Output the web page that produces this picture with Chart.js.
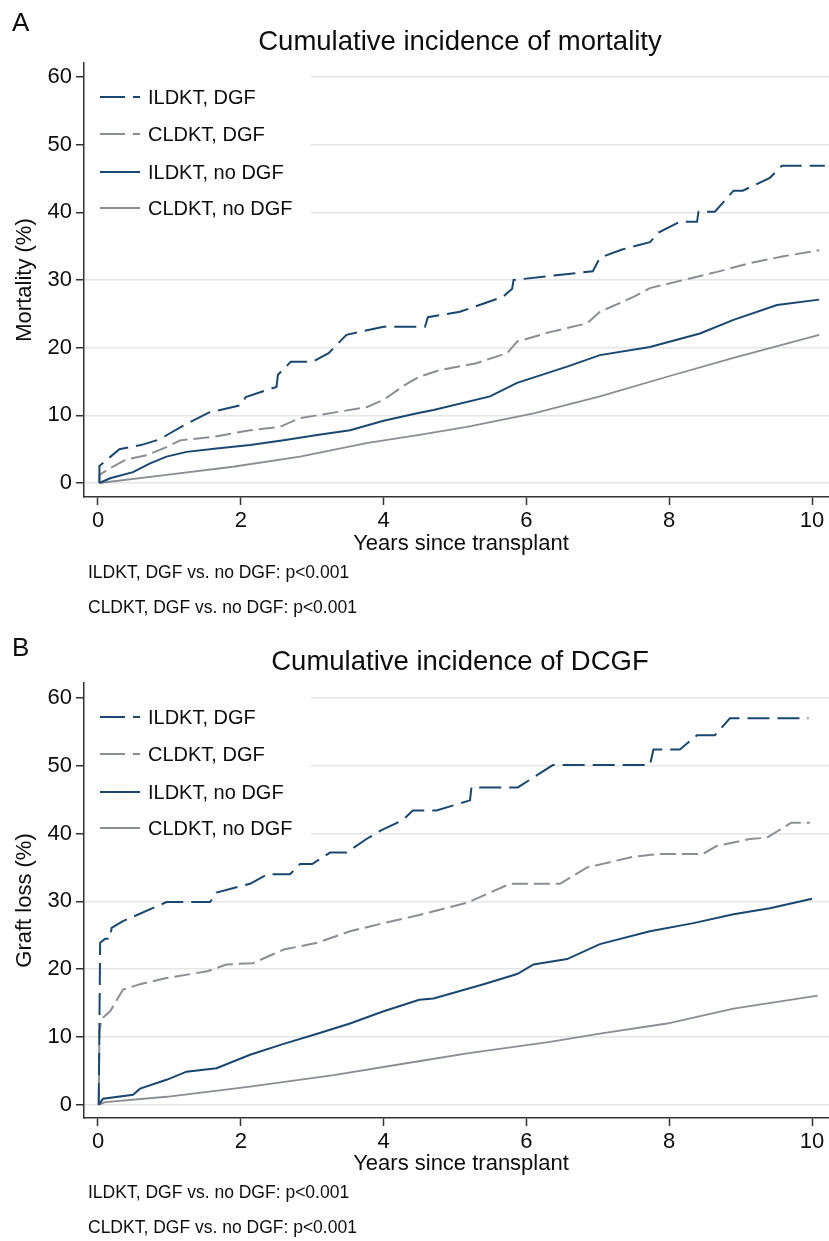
<!DOCTYPE html>
<html>
<head>
<meta charset="utf-8">
<script src="https://cdn.jsdelivr.net/npm/chart.js@4.4.0/dist/chart.umd.min.js"></script>
<style>
  body { margin: 0; background: #fff; }
  .panel { position: relative; width: 829px; }
  canvas { display: block; }
</style>
</head>
<body>
<div class="panel"><canvas id="chartA" width="829" height="620"></canvas></div>
<div class="panel"><canvas id="chartB" width="829" height="621"></canvas></div>
<script>
// ---- data ----
const X_TICKS = [0, 2, 4, 6, 8, 10];
const Y_TICKS = [0, 10, 20, 30, 40, 50, 60];
const SERIES_NAMES = ['ILDKT, DGF', 'CLDKT, DGF', 'ILDKT, no DGF', 'CLDKT, no DGF'];

// Panel A: mortality
const mortIldktDgfT = [0.02, 0.02, 0.3, 0.6, 0.85, 1.2, 1.55, 2.0, 2.07, 2.5, 2.52, 2.7, 3.0, 3.23, 3.48, 4.0, 4.58, 4.62, 5.07, 5.67, 5.8, 5.82, 6.93, 7.03, 7.34, 7.73, 7.85, 8.15, 8.39, 8.41, 8.64, 8.9, 9.03, 9.41, 9.58, 10.18];
const mortIldktDgfV = [0, 2.5, 5.0, 5.6, 6.4, 8.5, 10.4, 11.5, 12.7, 14.2, 16.0, 17.9, 17.9, 19.2, 21.9, 23.1, 23.1, 24.5, 25.3, 27.5, 28.7, 30.0, 31.3, 33.3, 34.5, 35.6, 37.0, 38.6, 38.6, 40.1, 40.1, 43.2, 43.2, 45.1, 46.9, 46.9];
const mortCldktDgfT = [0.02, 0.02, 0.17, 0.4, 0.68, 0.96, 1.15, 1.61, 2.13, 2.55, 2.83, 3.3, 3.76, 4.0, 4.3, 4.5, 4.79, 5.3, 5.73, 5.87, 6.33, 6.85, 7.03, 7.5, 7.73, 8.2, 8.67, 9.13, 9.6, 10.1];
const mortCldktDgfV = [0, 1.2, 2.2, 3.5, 4.1, 5.3, 6.3, 6.8, 7.8, 8.3, 9.6, 10.4, 11.2, 12.3, 14.5, 15.7, 16.7, 17.7, 19.2, 20.9, 22.3, 23.6, 25.3, 27.5, 28.8, 30.0, 31.2, 32.5, 33.5, 34.4];
const mortIldktNoT = [0.02, 0.17, 0.49, 0.73, 0.96, 1.24, 1.66, 2.13, 2.6, 3.07, 3.53, 4.0, 4.47, 4.7, 5.49, 5.87, 6.57, 7.03, 7.73, 8.43, 8.9, 9.51, 10.1];
const mortIldktNoV = [0, 0.7, 1.6, 2.9, 3.9, 4.6, 5.1, 5.6, 6.3, 7.1, 7.8, 9.2, 10.3, 10.8, 12.8, 14.8, 17.2, 18.9, 20.1, 22.1, 24.1, 26.3, 27.1];
const mortCldktNoT = [0.02, 0.96, 1.89, 2.83, 3.76, 4.5, 5.17, 6.1, 7.03, 7.97, 8.9, 10.1];
const mortCldktNoV = [0, 1.2, 2.4, 3.9, 5.9, 7.1, 8.3, 10.3, 12.8, 15.7, 18.5, 21.9];

// Panel B: death-censored graft failure
const dcgfIldktDgfT = [0.01, 0.03, 0.1, 0.17, 0.19, 0.35, 0.96, 1.57, 1.66, 2.13, 2.37, 2.69, 2.83, 3.0, 3.25, 3.48, 3.76, 3.95, 4.27, 4.41, 4.74, 5.21, 5.23, 5.88, 6.37, 7.73, 7.78, 8.15, 8.39, 8.64, 8.85, 9.95];
const dcgfIldktDgfV = [0, 23.9, 24.5, 24.5, 26.1, 27.1, 29.9, 29.9, 31.3, 32.6, 34.0, 34.0, 35.5, 35.5, 37.2, 37.2, 39.2, 40.4, 42.0, 43.4, 43.4, 44.9, 46.8, 46.8, 50.1, 50.1, 52.4, 52.4, 54.5, 54.5, 57.0, 57.0];
const dcgfCldktDgfT = [0.01, 0.02, 0.05, 0.17, 0.35, 0.59, 0.96, 1.53, 1.8, 2.17, 2.6, 3.07, 3.53, 4.0, 4.5, 5.17, 5.77, 6.47, 6.85, 7.5, 7.87, 8.47, 8.67, 9.13, 9.37, 9.6, 9.71, 9.97];
const dcgfCldktDgfV = [0, 10.8, 12.7, 13.8, 17.0, 17.8, 18.7, 19.7, 20.7, 20.9, 22.9, 23.9, 25.6, 26.8, 28.0, 29.8, 32.6, 32.6, 35.0, 36.6, 37.0, 37.0, 38.2, 39.2, 39.4, 40.9, 41.6, 41.6];
const dcgfIldktNoT = [0.01, 0.07, 0.49, 0.59, 0.96, 1.24, 1.66, 2.13, 2.6, 3.07, 3.53, 4.0, 4.5, 4.7, 5.4, 5.87, 6.1, 6.57, 7.03, 7.73, 8.34, 8.9, 9.41, 10.0];
const dcgfIldktNoV = [0, 0.9, 1.5, 2.4, 3.7, 4.9, 5.4, 7.4, 9.0, 10.5, 12.0, 13.8, 15.5, 15.7, 17.8, 19.3, 20.7, 21.5, 23.7, 25.6, 26.8, 28.1, 29.0, 30.4];
const dcgfCldktNoT = [0.01, 0.1, 0.96, 2.13, 3.3, 4.47, 5.17, 6.33, 7.03, 7.97, 8.9, 10.08];
const dcgfCldktNoV = [0, 0.4, 1.2, 2.7, 4.4, 6.4, 7.6, 9.3, 10.5, 12.0, 14.2, 16.1];

const NOTES = ['ILDKT, DGF vs. no DGF: p<0.001', 'CLDKT, DGF vs. no DGF: p<0.001'];

// ---- styles ----
const NAVY = '#1a476f';
const GREY = '#8a8e94';
const FONT = '"Liberation Sans", Arial, Helvetica, sans-serif';
const TEXT = '#0d0d0d';

function pts(t, v) {
    return t.map((x, i) => ({ x: x, y: v[i] }));
}

const lineStyles = [
    { color: NAVY, dash: [22, 8], width: 2 },
    { color: GREY, dash: [16, 6], width: 2 },
    { color: NAVY, dash: [], width: 2 },
    { color: GREY, dash: [], width: 1.8 }
];

// texts drawn by hand: panel letter, title, axis titles, legend, notes
const textPlugin = {
    id: 'texts',
    beforeDatasetsDraw(chart, args, o) {
        const ctx = chart.ctx;
        const a = chart.chartArea;
        ctx.save();
        // legend sits in a white box that hides the grid lines
        ctx.fillStyle = '#fff';
        ctx.fillRect(a.left + 1, a.top, 226, 162);
        const rows = [97, 134, 172, 208];
        ctx.font = '20px ' + FONT;
        ctx.textBaseline = 'middle';
        SERIES_NAMES.forEach((name, i) => {
            const s = lineStyles[i];
            ctx.strokeStyle = s.color;
            ctx.lineWidth = s.width;
            ctx.setLineDash(s.dash.length ? [25, 8] : []);
            ctx.beginPath();
            ctx.moveTo(100, rows[i]);
            ctx.lineTo(140, rows[i]);
            ctx.stroke();
            ctx.setLineDash([]);
            ctx.fillStyle = TEXT;
            ctx.textAlign = 'left';
            ctx.fillText(name, 148, rows[i] + 1);
        });
        ctx.restore();
    },
    afterDraw(chart, args, o) {
        const ctx = chart.ctx;
        const a = chart.chartArea;
        ctx.save();
        ctx.fillStyle = TEXT;
        ctx.textBaseline = 'middle';

        ctx.font = '26px ' + FONT;
        ctx.textAlign = 'left';
        ctx.fillText(o.letter, 12, o.letterY);

        ctx.font = '27.5px ' + FONT;
        ctx.textAlign = 'center';
        ctx.fillText(o.title, 460, 42);

        ctx.font = '22px ' + FONT;
        ctx.fillText('Years since transplant', 461, 544);

        ctx.save();
        ctx.translate(25, (a.top + a.bottom) / 2);
        ctx.rotate(-Math.PI / 2);
        ctx.fillText(o.yTitle, 0, 0);
        ctx.restore();

        ctx.font = '17.5px ' + FONT;
        ctx.textAlign = 'left';
        ctx.fillText(NOTES[0], 88, 573);
        ctx.fillText(NOTES[1], 88, 608);
        ctx.restore();
    }
};

function makeChart(id, series, yMin, yMax, texts) {
    const ctx = document.getElementById(id).getContext('2d');
    return new Chart(ctx, {
        type: 'line',
        data: {
            datasets: series.map((d, i) => ({
                label: SERIES_NAMES[i],
                data: d,
                borderColor: lineStyles[i].color,
                borderWidth: lineStyles[i].width,
                borderDash: lineStyles[i].dash,
                borderJoinStyle: 'miter',
                pointRadius: 0,
                fill: false,
                tension: 0
            }))
        },
        options: {
            responsive: false,
            animation: false,
            devicePixelRatio: 1,
            layout: { padding: { top: 63, left: 0, right: 0, bottom: 0 } },
            plugins: {
                legend: { display: false },
                tooltip: { enabled: false },
                texts: texts
            },
            scales: {
                x: {
                    type: 'linear',
                    min: -0.196,
                    max: 10.238,
                    afterBuildTicks: s => { s.ticks = X_TICKS.map(v => ({ value: v })); },
                    afterFit: s => { s.height = 123; },
                    grid: { drawOnChartArea: false, drawTicks: true, tickLength: 8, tickColor: '#333', tickWidth: 1.5 },
                    border: { color: '#333', width: 1.5 },
                    ticks: { color: TEXT, padding: 3, maxRotation: 0, font: { family: FONT, size: 22 } }
                },
                y: {
                    type: 'linear',
                    min: yMin,
                    max: yMax,
                    afterBuildTicks: s => { s.ticks = Y_TICKS.map(v => ({ value: v })); },
                    afterFit: s => { s.width = 84; },
                    grid: { color: '#e6e6e6', lineWidth: 1.5, drawTicks: true, tickLength: 8, tickColor: '#333', tickWidth: 1.5 },
                    border: { color: '#333', width: 1.5 },
                    ticks: { color: TEXT, padding: 4, font: { family: FONT, size: 22 } }
                }
            }
        },
        plugins: [textPlugin]
    });
}

makeChart('chartA', [
    pts(mortIldktDgfT, mortIldktDgfV),
    pts(mortCldktDgfT, mortCldktDgfV),
    pts(mortIldktNoT, mortIldktNoV),
    pts(mortCldktNoT, mortCldktNoV)
], -2.07, 62.07, { letter: 'A', letterY: 24, title: 'Cumulative incidence of mortality', yTitle: 'Mortality (%)' });

makeChart('chartB', [
    pts(dcgfIldktDgfT, dcgfIldktDgfV),
    pts(dcgfCldktDgfT, dcgfCldktDgfV),
    pts(dcgfIldktNoT, dcgfIldktNoV),
    pts(dcgfCldktNoT, dcgfCldktNoV)
], -1.93, 62.2, { letter: 'B', letterY: 29, title: 'Cumulative incidence of DCGF', yTitle: 'Graft loss (%)' });
</script>
</body>
</html>
